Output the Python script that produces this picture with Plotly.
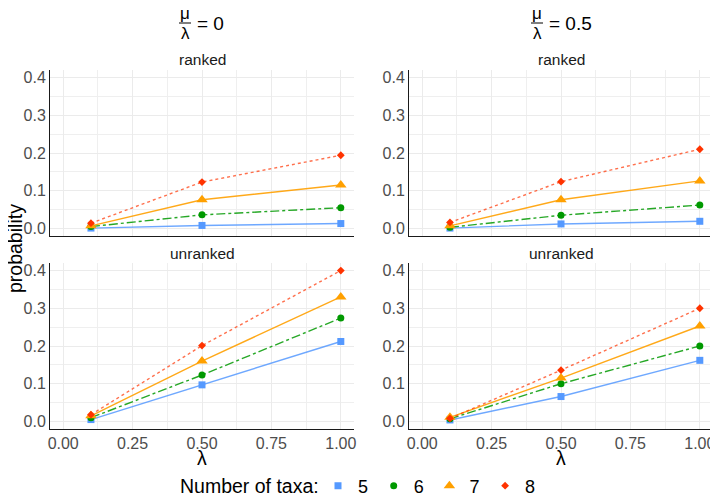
import plotly.graph_objects as go

# ---- data ----
lam = [0.1, 0.5, 1.0]
taxa = ["5", "6", "7", "8"]

# mu/lambda = 0
ranked_0 = {
    "5": [0.001, 0.008, 0.013],
    "6": [0.005, 0.036, 0.055],
    "7": [0.007, 0.076, 0.115],
    "8": [0.014, 0.123, 0.194],
}
unranked_0 = {
    "5": [0.005, 0.097, 0.212],
    "6": [0.010, 0.123, 0.274],
    "7": [0.015, 0.160, 0.330],
    "8": [0.018, 0.201, 0.400],
}
# mu/lambda = 0.5
ranked_05 = {
    "5": [0.001, 0.012, 0.019],
    "6": [0.003, 0.035, 0.062],
    "7": [0.007, 0.076, 0.126],
    "8": [0.016, 0.124, 0.210],
}
unranked_05 = {
    "5": [0.004, 0.066, 0.162],
    "6": [0.007, 0.100, 0.200],
    "7": [0.011, 0.115, 0.253],
    "8": [0.008, 0.136, 0.300],
}

x_ticks = [0.0, 0.25, 0.5, 0.75, 1.0]
x_ticklabels = ["0.00", "0.25", "0.50", "0.75", "1.00"]
y_ticks = [0.0, 0.1, 0.2, 0.3, 0.4]
y_ticklabels = ["0.0", "0.1", "0.2", "0.3", "0.4"]

# ---- styles ----
OFF = 8                     # page body margin
W, H = 718 - OFF, 498 - OFF
colors = {"5": "#5599FF", "6": "#009900", "7": "#FFA000", "8": "#FF3300"}
line_colors = {"5": "rgba(85,153,255,0.85)", "6": "rgba(0,153,0,0.85)",
               "7": "rgba(255,160,0,0.9)", "8": "rgba(255,51,0,0.7)"}
dashes = {"5": "solid", "6": "dashdot", "7": "solid", "8": "dot"}
symbols = {"5": "square", "6": "circle", "7": "triangle-up", "8": "diamond"}
sizes = {"5": 7, "6": 7, "7": 10, "8": 6}

FONT = "Liberation Sans, Arial, sans-serif"

def px_x(p):
    return (p - OFF) / W

def px_y(p):
    return 1 - (p - OFF) / H

# panel pixel boxes in the window: (left, right, top, bottom)
panels = [
    ("x", "y", (50, 354, 70, 236), ranked_0, True, False),
    ("x2", "y2", (409, 713, 70, 236), ranked_05, False, False),
    ("x3", "y3", (50, 354, 263, 429), unranked_0, False, True),
    ("x4", "y4", (409, 713, 263, 429), unranked_05, False, True),
]

fig = go.Figure()

layout_axes = {}
for i, (xa, ya, box, data, legend, show_xlabels) in enumerate(panels):
    l, r, t, b = box
    for k in taxa:
        fig.add_trace(go.Scatter(
            x=lam, y=data[k], mode="lines", xaxis=xa, yaxis=ya,
            line=dict(color=line_colors[k], dash=dashes[k], width=1.4),
            showlegend=False, hoverinfo="skip", legendgroup=k))
        fig.add_trace(go.Scatter(
            x=lam, y=data[k], mode="markers", xaxis=xa, yaxis=ya,
            marker=dict(color=colors[k], symbol=symbols[k], size=sizes[k],
                        line=dict(width=0)),
            name=k, showlegend=legend, legendgroup=k))
    xname = "xaxis" if i == 0 else f"xaxis{i+1}"
    yname = "yaxis" if i == 0 else f"yaxis{i+1}"
    layout_axes[xname] = dict(
        domain=[px_x(l), min(px_x(r), 1.0)], anchor=ya, range=[-0.0475, 1.0475],
        tickvals=x_ticks, ticktext=x_ticklabels, showticklabels=show_xlabels,
        showgrid=True, gridcolor="#EBEBEB", gridwidth=1,
        minor=dict(dtick=0.125, tick0=0, showgrid=True, gridcolor="#EFEFEF", gridwidth=0.6),
        showline=True, linecolor="#1a1a1a", linewidth=1, zeroline=False,
        ticks="", tickfont=dict(size=16, color="#4D4D4D", family=FONT),
    )
    layout_axes[yname] = dict(
        domain=[px_y(b), px_y(t)], anchor=xa, range=[-0.02, 0.42],
        tickvals=y_ticks, ticktext=y_ticklabels,
        showgrid=True, gridcolor="#EBEBEB", gridwidth=1,
        minor=dict(dtick=0.05, tick0=0, showgrid=True, gridcolor="#EFEFEF", gridwidth=0.6),
        showline=True, linecolor="#1a1a1a", linewidth=1, zeroline=False,
        ticks="", tickfont=dict(size=16, color="#4D4D4D", family=FONT),
    )

annotations = []
# strip titles
for (l, r, t, b), txt in [((50, 354, 70, 236), "ranked"), ((409, 713, 70, 236), "ranked"),
                          ((50, 354, 263, 429), "unranked"), ((409, 713, 263, 429), "unranked")]:
    annotations.append(dict(x=px_x((l + r) / 2), y=px_y(t - 10), xref="paper", yref="paper",
                            text=txt, showarrow=False,
                            font=dict(size=15.5, color="#1A1A1A", family=FONT),
                            xanchor="center", yanchor="middle"))
# x titles
for cx in [202, 561]:
    annotations.append(dict(x=px_x(cx), y=px_y(458), xref="paper", yref="paper", text="λ",
                            showarrow=False, font=dict(size=19.5, color="black", family=FONT),
                            xanchor="center", yanchor="middle"))
# y title
annotations.append(dict(x=px_x(15), y=px_y(249), xref="paper", yref="paper", text="probability",
                        showarrow=False, textangle=-90,
                        font=dict(size=19.5, color="black", family=FONT),
                        xanchor="center", yanchor="middle"))
# legend title
annotations.append(dict(x=px_x(178), y=px_y(486), xref="paper", yref="paper",
                        text="Number of taxa:", showarrow=False,
                        font=dict(size=19.5, color="black", family=FONT),
                        xanchor="left", yanchor="middle"))
# column headers (fractions)
shapes = []
for cx, val in [(185, "= 0"), (537, "= 0.5")]:
    annotations.append(dict(x=px_x(cx), y=px_y(13), xref="paper", yref="paper", text="μ",
                            showarrow=False, font=dict(size=17, color="black", family=FONT),
                            xanchor="center", yanchor="middle"))
    annotations.append(dict(x=px_x(cx), y=px_y(34), xref="paper", yref="paper", text="λ",
                            showarrow=False, font=dict(size=17, color="black", family=FONT),
                            xanchor="center", yanchor="middle"))
    annotations.append(dict(x=px_x(cx + 10), y=px_y(23), xref="paper", yref="paper", text=val,
                            showarrow=False, font=dict(size=19, color="black", family=FONT),
                            xanchor="left", yanchor="middle"))
    shapes.append(dict(type="line", xref="paper", yref="paper",
                       x0=px_x(cx - 6), x1=px_x(cx + 6), y0=px_y(23), y1=px_y(23),
                       line=dict(color="black", width=1)))

fig.update_layout(
    width=W, height=H, autosize=False,
    margin=dict(l=0, r=0, t=0, b=0, autoexpand=False),
    paper_bgcolor="white", plot_bgcolor="white",
    font=dict(family=FONT),
    annotations=annotations, shapes=shapes,
    legend=dict(orientation="h", x=px_x(318), y=px_y(486), xanchor="left", yanchor="middle",
                entrywidth=10.7, entrywidthmode="pixels",
                font=dict(size=18, color="black", family=FONT), bgcolor="rgba(0,0,0,0)"),
    **layout_axes,
)

fig.write_html("out.html")
